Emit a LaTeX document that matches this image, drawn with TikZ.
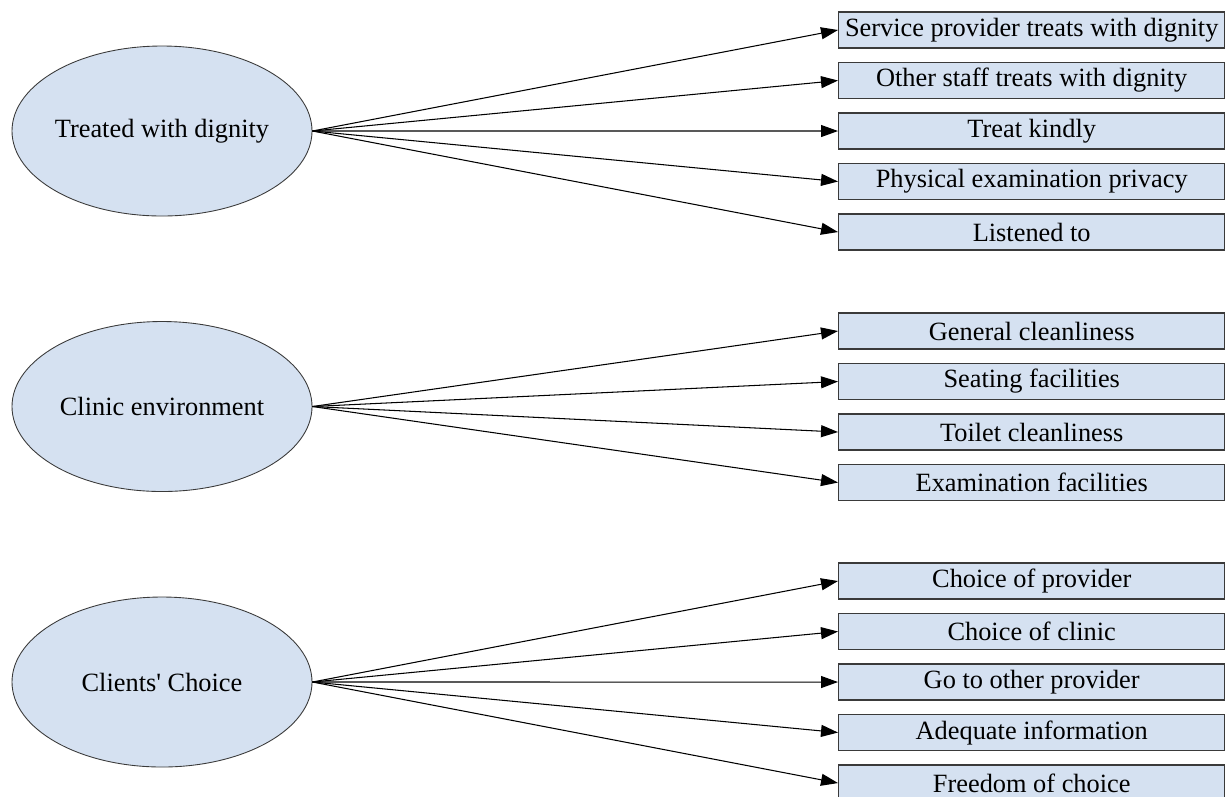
\documentclass[tikz,border=0pt]{standalone}
\usepackage{fontspec}
\setmainfont{Liberation Serif}
\usepackage{tikz}
\usetikzlibrary{positioning, shapes.geometric, arrows.meta}
\definecolor{item_fill}{HTML}{D5E1F1}
\definecolor{item_line}{HTML}{3A3A3A}

\tikzset{
    factor/.style={ellipse, draw=item_line, fill=item_fill, line width=0.5pt,
        minimum width=6cm, minimum height=3.4cm, inner sep=0pt, inner xsep=-1mm},
    itembox/.style={rectangle, draw=item_line, fill=item_fill, line width=0.8pt,
        minimum width=7.72cm, minimum height=0.72cm, inner sep=0pt, anchor=west},
    link/.style={-{Triangle[length=0.34cm, width=0.24cm]}, line width=0.6pt}
}

\begin{document}
\begin{tikzpicture}[font=\fontsize{15}{18}\selectfont, node distance=0.262cm]
                \useasboundingbox (0,0) rectangle (24.52,-15.92);
                % factors
                \node[factor] (dignity) at (3.24,-2.62) {Treated with dignity};
                \node[factor] (environ) at (3.24,-8.13) {Clinic environment};
                \node[factor] (choice) at (3.24,-13.64) {Clients\textquotesingle{} Choice};
                % items, treated with dignity
                \node[itembox] (d1) at (16.76,-0.60) {Service provider treats with dignity};
                \node[itembox, below=of d1.south west, anchor=north west] (d2) {Other staff treats with dignity};
                \node[itembox, below=of d2.south west, anchor=north west] (d3) {Treat kindly};
                \node[itembox, below=of d3.south west, anchor=north west] (d4) {Physical examination privacy};
                \node[itembox, below=of d4.south west, anchor=north west] (d5) {Listened to};
                % items, clinic environment
                \node[itembox] (e1) at (16.76,-6.62) {General cleanliness};
                \node[itembox, below=of e1.south west, anchor=north west] (e2) {Seating facilities};
                \node[itembox, below=of e2.south west, anchor=north west] (e3) {Toilet cleanliness};
                \node[itembox, below=of e3.south west, anchor=north west] (e4) {Examination facilities};
                % items, clients' choice
                \node[itembox] (c1) at (16.76,-11.62) {Choice of provider};
                \node[itembox, below=of c1.south west, anchor=north west] (c2) {Choice of clinic};
                \node[itembox, below=of c2.south west, anchor=north west] (c3) {Go to other provider};
                \node[itembox, below=of c3.south west, anchor=north west] (c4) {Adequate information};
                \node[itembox, below=of c4.south west, anchor=north west] (c5) {Freedom of choice};
                % arrows
                \foreach \b in {d1,d2,d3,d4,d5}
                    \draw[link] (dignity.east) -- (\b.west);
                \foreach \b in {e1,e2,e3,e4}
                    \draw[link] (environ.east) -- (\b.west);
                \foreach \b in {c1,c2,c3,c4,c5}
                    \draw[link] (choice.east) -- (\b.west);
            \end{tikzpicture}
\end{document}
